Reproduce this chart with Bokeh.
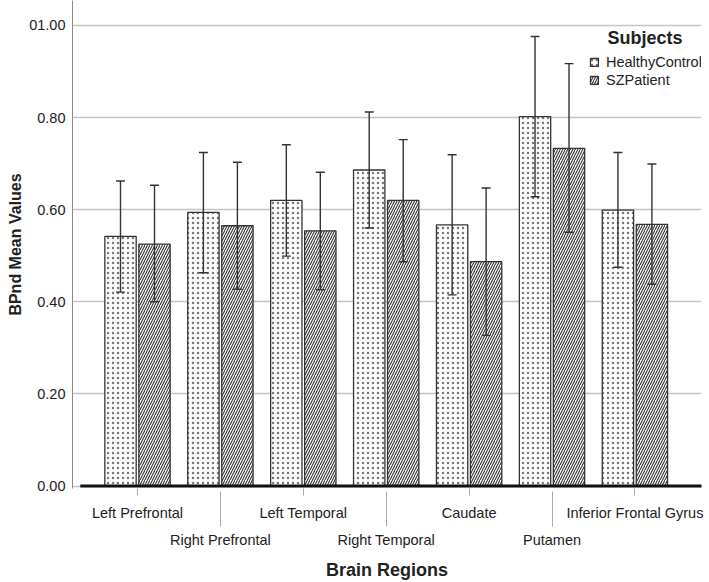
import numpy as np
from bokeh.plotting import figure
from bokeh.models import (Range1d, FixedTicker, LinearAxis, Legend, LegendItem, Label,
                          CustomJSTickFormatter)
from bokeh.embed import file_html
from bokeh.resources import INLINE

# ---------------- data ----------------
regions = ["Left Prefrontal", "Right Prefrontal", "Left Temporal", "Right Temporal",
           "Caudate", "Putamen", "Inferior Frontal Gyrus"]
hc_mean = [0.542, 0.594, 0.620, 0.686, 0.567, 0.802, 0.599]
hc_low = [0.421, 0.463, 0.499, 0.560, 0.415, 0.628, 0.475]
hc_high = [0.662, 0.724, 0.741, 0.812, 0.719, 0.976, 0.724]
sz_mean = [0.525, 0.565, 0.554, 0.620, 0.487, 0.733, 0.568]
sz_low = [0.400, 0.427, 0.426, 0.487, 0.327, 0.551, 0.438]
sz_high = [0.653, 0.703, 0.681, 0.752, 0.647, 0.917, 0.699]
series_names = ["HealthyControl", "SZPatient"]
y_ticks = [0, 0.2, 0.4, 0.6, 0.8, 1.0]
y_tick_labels = ["0.00", "0.20", "0.40", "0.60", "0.80", "01.00"]

FONT = "Liberation Sans"
TXT = "#222222"

idx = np.arange(len(regions))
offset = 0.205
bar_w = 0.378
cap = 0.054
hc_x = idx - offset
sz_x = idx + offset

p = figure(width=709, height=582,
           x_range=Range1d(-0.784, 6.803), y_range=Range1d(-0.0054, 1.054),
           output_backend="svg", toolbar_location=None, x_axis_location=None,
           min_border_left=72, min_border_right=8, min_border_top=0, min_border_bottom=91)
p.outline_line_color = None
p.background_fill_color = "white"
p.border_fill_color = "white"

# y axis
yax = p.yaxis[0]
yax.ticker = FixedTicker(ticks=y_ticks)
yax.formatter = CustomJSTickFormatter(args=dict(vals=y_ticks, labs=y_tick_labels), code="""
    for (let i = 0; i < vals.length; i++) { if (Math.abs(vals[i] - tick) < 1e-9) return labs[i]; }
    return "";
""")
yax.major_tick_out = 0
yax.major_tick_in = 0
yax.minor_tick_line_color = None
yax.minor_tick_out = 0
yax.axis_line_color = "#8a8a8a"
yax.major_label_standoff = 7
yax.major_label_text_font = FONT
yax.major_label_text_font_size = "14.5px"
yax.major_label_text_color = TXT
yax.axis_label = "BPnd Mean Values"
yax.axis_label_text_font = FONT
yax.axis_label_text_font_size = "16px"
yax.axis_label_text_font_style = "bold"
yax.axis_label_text_color = TXT
yax.axis_label_standoff = 2

p.ygrid[0].ticker = FixedTicker(ticks=y_ticks)
p.ygrid.grid_line_color = "#c4c4c4"
p.ygrid.grid_line_width = 1.5
p.xgrid.visible = False

# x axes (two rows of labels)
even = [int(i) for i in idx if i % 2 == 0]
odd = [int(i) for i in idx if i % 2 == 1]
region_fmt = CustomJSTickFormatter(args=dict(names=regions),
                                   code="return names[Math.round(tick)];")

axB = LinearAxis(ticker=FixedTicker(ticks=even), formatter=region_fmt)
axB.axis_line_color = None
axB.major_tick_line_color = "#aaaaaa"
axB.minor_tick_line_color = None
axB.major_tick_out = 7
axB.major_tick_in = 0
axB.minor_tick_out = 0
axB.major_label_standoff = 9
axB.major_label_text_font = FONT
axB.major_label_text_font_size = "14.5px"
axB.major_label_text_color = TXT

axA = LinearAxis(ticker=FixedTicker(ticks=odd), formatter=region_fmt)
axA.axis_line_color = None
axA.major_tick_line_color = "#aaaaaa"
axA.minor_tick_line_color = None
axA.major_tick_out = 3
axA.major_tick_in = 32
axA.minor_tick_out = 0
axA.major_label_standoff = 5
axA.major_label_text_font = FONT
axA.major_label_text_font_size = "14.5px"
axA.major_label_text_color = TXT
axA.axis_label = "Brain Regions"
axA.axis_label_text_font = FONT
axA.axis_label_text_font_size = "18px"
axA.axis_label_text_font_style = "bold"
axA.axis_label_text_color = TXT
axA.axis_label_standoff = 9

p.add_layout(axB, "below")
p.add_layout(axA, "below")

# bars
hc_r = p.vbar(x=hc_x, top=hc_mean, bottom=0, width=bar_w, fill_color="white",
              line_color="#333333", line_width=1.3,
              hatch_pattern=".", hatch_color="#777777", hatch_scale=5, hatch_weight=0.8)
sz_r = p.vbar(x=sz_x, top=sz_mean, bottom=0, width=bar_w, fill_color="white",
              line_color="#333333", line_width=1.3,
              hatch_pattern="/", hatch_color="#333333", hatch_scale=5, hatch_weight=1.1)

# baseline
p.segment(x0=[-0.69], y0=[0], x1=[7.0], y1=[0], line_color="#111111", line_width=3)

# error bars
for xs, lo, hi in ((hc_x, hc_low, hc_high), (sz_x, sz_low, sz_high)):
    p.segment(x0=xs, y0=lo, x1=xs, y1=hi, line_color="#333333", line_width=1.4)
    p.segment(x0=xs - cap, y0=hi, x1=xs + cap, y1=hi, line_color="#333333", line_width=1.4)
    p.segment(x0=xs - cap, y0=lo, x1=xs + cap, y1=lo, line_color="#333333", line_width=1.4)

# legend
legend = Legend(items=[LegendItem(label=series_names[0], renderers=[hc_r]),
                       LegendItem(label=series_names[1], renderers=[sz_r])],
                location=(517, 400), orientation="vertical")
legend.padding = 0
legend.margin = 0
legend.spacing = 2
legend.border_line_color = None
legend.background_fill_alpha = 0
legend.glyph_width = 10
legend.glyph_height = 10
legend.label_height = 15
legend.label_standoff = 7
legend.label_text_font = FONT
legend.label_text_font_size = "14.5px"
legend.label_text_color = TXT
p.add_layout(legend, "center")

p.add_layout(Label(x=5.67, y=0.972, text="Subjects", text_baseline="middle", text_align="left",
                   text_font=FONT, text_font_size="18px", text_font_style="bold",
                   text_color=TXT))

open("out.html", "w").write(file_html(p, INLINE))
